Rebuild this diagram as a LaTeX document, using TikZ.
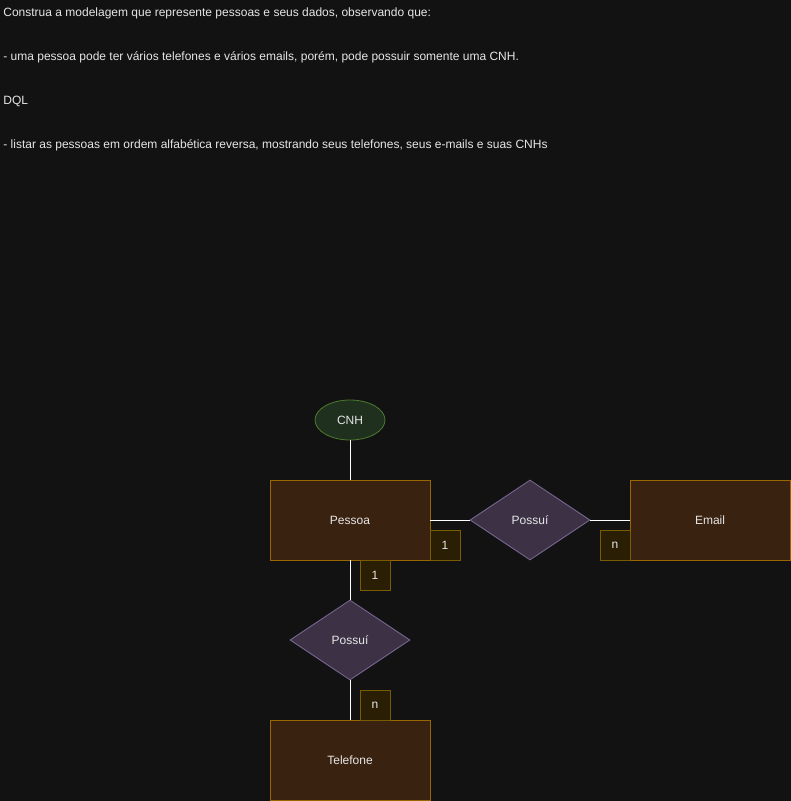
\documentclass[tikz,border=0pt]{standalone}
\usepackage{fontspec}
\setmainfont{Liberation Sans}
\usetikzlibrary{shapes.geometric}

\definecolor{bgcol}{HTML}{121212}
\definecolor{txtcol}{HTML}{E6E6E6}
\definecolor{entfill}{HTML}{3A2210}
\definecolor{entline}{HTML}{996600}
\definecolor{relfill}{HTML}{3D3245}
\definecolor{relline}{HTML}{7E6A98}
\definecolor{attfill}{HTML}{1F301E}
\definecolor{attline}{HTML}{4D7A2F}
\definecolor{cardfill}{HTML}{2A1E05}
\definecolor{cardline}{HTML}{7A5C00}

\tikzset{
	entity/.style={rectangle, fill=entfill, draw=entline, minimum width=160pt, minimum height=80pt, inner sep=0pt},
	relation/.style={diamond, fill=relfill, draw=relline, minimum width=120pt, minimum height=80pt, inner sep=0pt},
	attrib/.style={ellipse, fill=attfill, draw=attline, minimum width=70pt, minimum height=40pt, inner sep=0pt},
	card/.style={rectangle, fill=cardfill, draw=cardline, minimum size=30pt, inner sep=0pt},
	note/.style={anchor=west, inner sep=0pt},
	link/.style={draw=white, line width=0.8pt}
}

\begin{document}
\begin{tikzpicture}[x=1pt, y=-1pt, line width=0.8pt, text=txtcol, font=\fontsize{12}{14}\selectfont]
	%background
	\fill[bgcol] (0, 0) rectangle (791, 801);
	\useasboundingbox (0, 0) rectangle (791, 801);
	%statement
	\node[note] (t1) at (3, 13) {Construa a modelagem que represente pessoas e seus dados, observando que:};
	\node[note] (t2) at (3, 57) {- uma pessoa pode ter vários telefones e vários emails, porém, pode possuir somente uma CNH.};
	\node[note] (t3) at (3, 101) {DQL};
	\node[note] (t4) at (3, 145) {- listar as pessoas em ordem alfabética reversa, mostrando seus telefones, seus e-mails e suas CNHs};
	%entities
	\node[entity] (pessoa) at (350, 520) {Pessoa};
	\node[entity] (email) at (710, 520) {Email};
	\node[entity] (telefone) at (350, 760) {Telefone};
	\node[attrib] (cnh) at (350, 420) {CNH};
	\node[relation] (possui1) at (530, 520) {Possuí};
	\node[relation] (possui2) at (350, 640) {Possuí};
	%links
	\draw[link] (cnh) -- (pessoa);
	\draw[link] (pessoa) -- (possui1);
	\draw[link] (possui1) -- (email);
	\draw[link] (pessoa) -- (possui2);
	\draw[link] (possui2) -- (telefone);
	%cardinalities
	\node[card] (c1) at (445, 545) {1};
	\node[card] (c2) at (615, 545) {n};
	\node[card] (c3) at (375, 575) {1};
	\node[card] (c4) at (375, 705) {n};
\end{tikzpicture}
\end{document}
